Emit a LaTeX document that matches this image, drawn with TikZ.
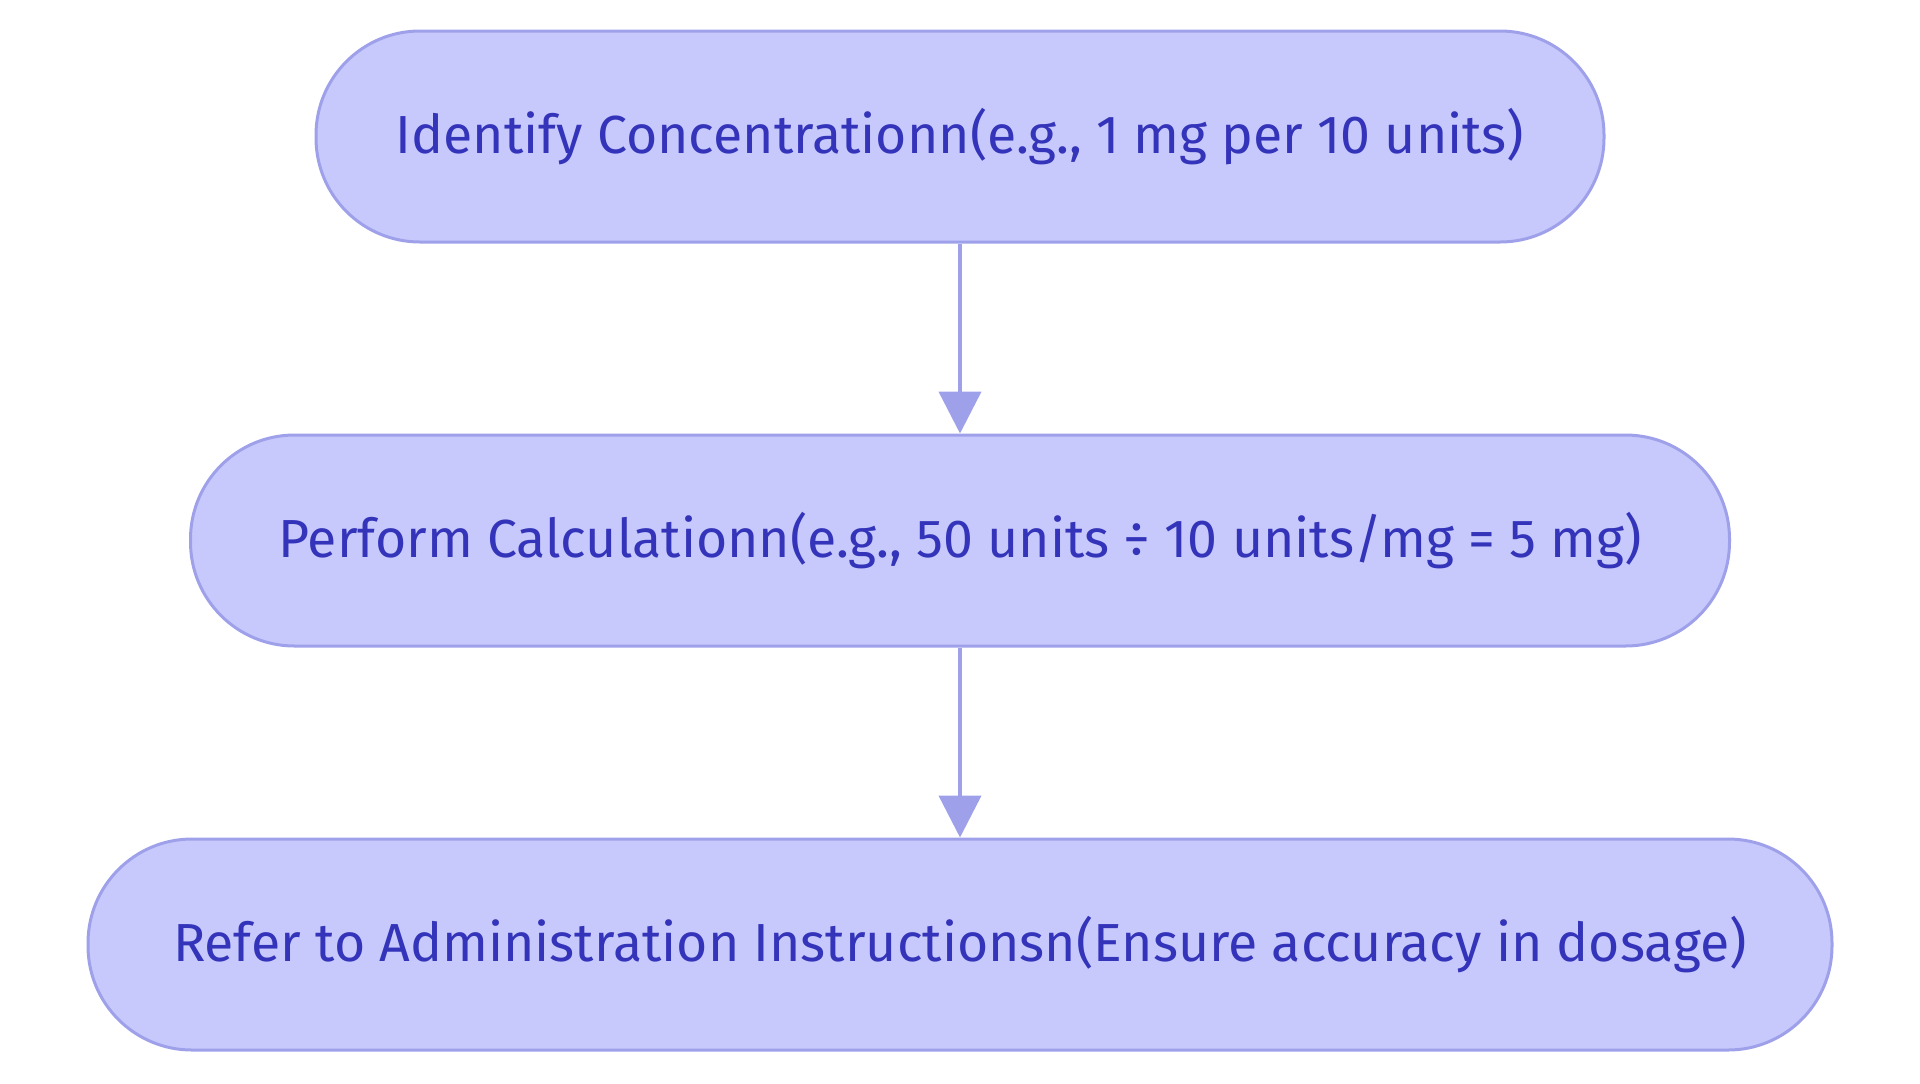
\documentclass[tikz,border=0pt]{standalone}
\usepackage{fontspec}
\setmainfont{Fira Sans}
\usetikzlibrary{arrows.meta,positioning}

\definecolor{boxfill}{RGB}{199,201,252}
\definecolor{boxline}{RGB}{158,161,234}
\definecolor{boxtext}{RGB}{52,52,186}

\begin{document}
\begin{tikzpicture}[>={Triangle[length=21pt,width=21pt,fill=boxline]}, auto,
    step box/.style={draw=boxline, line width=1.5pt, fill=boxfill,
        text=boxtext, rounded corners=52pt, minimum height=105.5pt,
        inner xsep=0pt, font=\fontsize{26.8}{30}\selectfont},
    flow/.style={draw=boxline, line width=2.2pt}]
    \useasboundingbox (0,0) rectangle (960pt,-541.5pt);
    % Nodes {calc steps}
    \node [step box, minimum width=644pt]   (identify)  at (480pt,-68.25pt)    {Identify Concentrationn(e.g., 1 mg per 10 units)};
    \node [step box, minimum width=769.5pt] (perform)   [below=95pt of identify] {Perform Calculationn(e.g., 50 units ÷ 10 units/mg = 5 mg)};
    \node [step box, minimum width=872pt]   (refer)     [below=95pt of perform]  {Refer to Administration Instructionsn(Ensure accuracy in dosage)};

    % Paths
    \path [flow, ->] (identify) edge (perform);
    \path [flow, ->] (perform)  edge (refer);
\end{tikzpicture}
\end{document}
